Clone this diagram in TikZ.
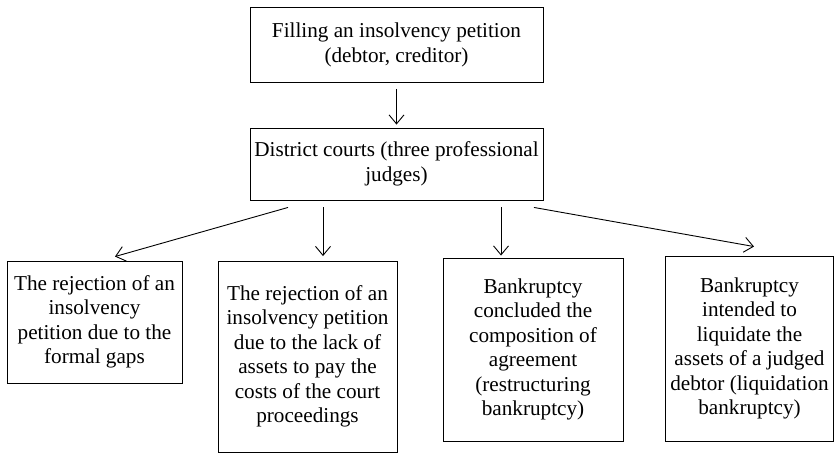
\documentclass[tikz,border=0pt]{standalone}
\usepackage{fontspec}
\setmainfont{Liberation Serif}
\usepackage{tikz}
\usetikzlibrary{arrows.meta,positioning}

\begin{document}
\begin{tikzpicture}[x=1pt,y=-1pt,
        box/.style={draw,line width=0.9pt,align=center,inner sep=2pt,font=\fontsize{21.2}{24.5}\selectfont},
        arr/.style={line width=0.9pt,-{Straight Barb[length=9pt,width=15pt,line width=0.9pt]}}]
        \useasboundingbox (0,0) rectangle (836,453);
        \node[box,minimum width=293pt,minimum height=75pt] (petition) at (396.5,45)
          {Filling an insolvency petition\\(debtor, creditor)};
        \node[box,minimum width=293pt,minimum height=72pt] (courts) at (396.5,164)
          {District courts (three professional\\judges)};
        \node[box,minimum width=175pt,minimum height=122pt] (formal) at (94.5,322)
          {The rejection of an\\insolvency\\petition due to the\\formal gaps};
        \node[box,minimum width=179pt,minimum height=191pt] (assets) at (307.5,356.5)
          {The rejection of an\\insolvency petition\\due to the lack of\\assets to pay the\\costs of the court\\proceedings};
        \node[box,minimum width=180pt,minimum height=183pt] (restruct) at (533,349.5)
          {Bankruptcy\\concluded the\\composition of\\agreement\\(restructuring\\bankruptcy)};
        \node[box,minimum width=168pt,minimum height=185pt] (liquid) at (749.5,348.5)
          {Bankruptcy\\intended to\\liquidate the\\assets of a judged\\debtor (liquidation\\bankruptcy)};
        % arrows
        \draw[arr] ([yshift=-6pt]petition.south) -- ([yshift=3pt]courts.north);
        \draw[arr] ([xshift=-108.5pt,yshift=-7pt]courts.south) -- ([xshift=20.5pt,yshift=4pt]formal.north);
        \draw[arr] ([xshift=-73.5pt,yshift=-7pt]courts.south) -- ([xshift=15.5pt,yshift=4.5pt]assets.north);
        \draw[arr] ([xshift=104.5pt,yshift=-7pt]courts.south) -- ([xshift=-32pt,yshift=2pt]restruct.north);
        \draw[arr] ([xshift=137.5pt,yshift=-7pt]courts.south) -- ([xshift=4.5pt,yshift=9pt]liquid.north);
      \end{tikzpicture}
\end{document}
